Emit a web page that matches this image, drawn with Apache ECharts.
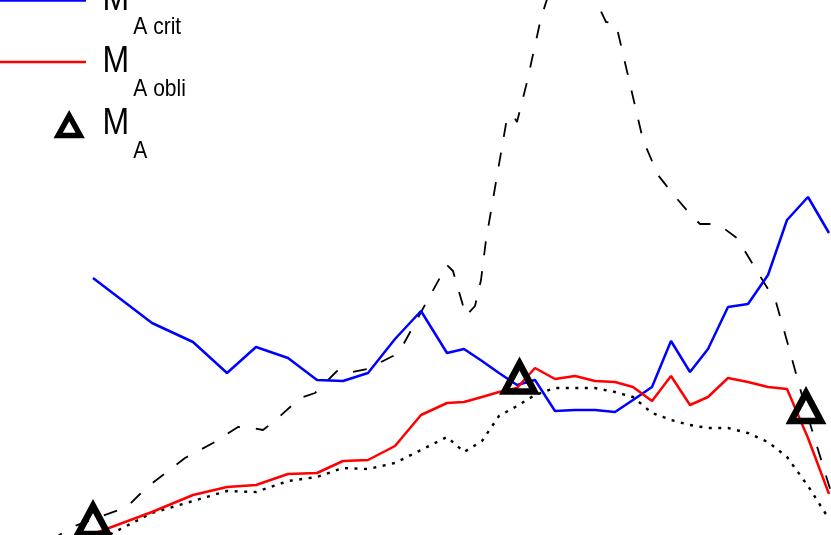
<!DOCTYPE html>
<html>
<head>
<meta charset="utf-8">
<script src="https://cdn.jsdelivr.net/npm/echarts@6/dist/echarts.min.js"></script>
<style>
html, body { margin: 0; padding: 0; background: #fff; }
#chart { width: 831px; height: 535px; }
</style>
</head>
<body>
<div id="chart"></div>
<script>
// shared abscissa for the two model curves and the dotted reference
const xs = [9.3, 15.2, 19.3, 22.7, 25.6, 28.8, 31.7, 34.3, 36.8, 39.5, 42.1, 44.7, 46.4, 48.2, 49.9, 51.7,
    53.5, 55.5, 57.5, 59.5, 61.5, 63.3, 65.2, 67.1, 69.0, 70.8, 72.8, 74.8, 76.8, 78.7, 80.8, 82.9];
const maCrit = [25.7, 21.2, 19.3, 16.2, 18.8, 17.7, 15.5, 15.4, 16.2, 19.6, 22.4, 18.2, 18.6, 17.4, 16.2, 15.0,
    15.5, 12.4, 12.5, 12.5, 12.3, 13.5, 14.8, 19.4, 16.3, 18.6, 22.8, 23.1, 26.0, 31.5, 33.8, 30.2];
const maObli = [0.1, 2.3, 4.0, 4.8, 5.0, 6.1, 6.2, 7.4, 7.5, 8.9, 12.0, 13.2, 13.3, 13.8, 14.3, 14.7,
    16.7, 15.6, 15.9, 15.4, 15.3, 14.8, 13.4, 15.9, 13.0, 13.8, 15.7, 15.3, 14.8, 14.6, 9.7, 4.1];
const dotted = [-0.8, 2.2, 3.4, 4.4, 4.3, 5.4, 5.8, 6.7, 6.6, 7.2, 8.5, 9.8, 8.3, 9.4, 11.9, 12.9,
    14.0, 14.7, 14.7, 14.7, 14.3, 13.8, 12.2, 11.5, 11.0, 10.7, 10.7, 10.2, 9.3, 7.8, 4.9, 1.6];

// dashed curve has its own sampling
const dashX = [5.0, 7.2, 12.7, 14.0, 15.0, 18.5, 21.3, 23.8, 25.2, 26.3, 27.7, 30.0, 31.5, 33.7, 34.3, 35.3,
    36.7, 39.3, 40.2, 42.0, 44.7, 45.3, 46.6, 47.5, 48.1, 48.6, 50.7, 51.3, 51.7, 52.7, 54.1, 55.0,
    57.0, 59.0, 59.8, 60.6, 61.6, 64.3, 65.8, 67.3, 69.0, 70.0, 71.2, 72.2, 73.7, 76.0, 77.6, 78.7,
    80.8, 83.5];
const dashY = [-0.6, 0.8, 2.8, 4.1, 5.0, 7.7, 9.2, 10.8, 10.7, 10.5, 11.6, 13.7, 14.2, 16.4, 16.6, 16.3,
    16.6, 17.9, 18.8, 22.1, 27.0, 26.4, 21.9, 22.9, 25.5, 29.5, 41.7, 42.0, 41.3, 45.3, 51.7, 54.5,
    55.5, 54.7, 53.0, 51.3, 51.1, 39.5, 36.0, 34.1, 32.1, 31.1, 31.1, 30.8, 29.7, 25.9, 23.3, 19.4,
    11.8, 3.0];

// M_A points
const maX = [9.3, 51.95, 80.6];
const maY = [1.5, 15.75, 12.8];

const legendSubs = ['A crit', 'A obli', 'A'];

const pairs = (a, b) => a.map((v, i) => [v, b[i]]);

const chart = echarts.init(document.getElementById('chart'), null, { renderer: 'canvas' });

// legend drawn by hand: M with a lowered subscript
const legendY = [-0.3, 61.7, 123.3];
const graphic = [
    { type: 'line', shape: { x1: 0, y1: 0.5, x2: 86, y2: 0.5 }, style: { stroke: '#0000ff', lineWidth: 2.5 } },
    { type: 'line', shape: { x1: 0, y1: 62, x2: 86, y2: 62 }, style: { stroke: '#ff0000', lineWidth: 2.5 } },
    {
        type: 'polygon',
        shape: { points: [[69.2, 115.6], [58.2, 135.5], [80.2, 135.5]] },
        style: { fill: 'none', stroke: '#000', lineWidth: 5.5, lineJoin: 'miter' }
    }
];
legendSubs.forEach((sub, i) => {
    graphic.push({
        type: 'text', x: 102.6, y: legendY[i], scaleY: 1.165,
        style: { text: 'M', font: '32px "Liberation Sans"', fill: '#000', verticalAlign: 'middle' }
    });
    graphic.push({
        type: 'text', x: 133.3, y: legendY[i] + 27.8, scaleY: 1.11,
        style: { text: sub, font: '21px "Liberation Sans"', fill: '#000', verticalAlign: 'middle' }
    });
});

const option = {
    animation: false,
    grid: { left: 0, right: 0, top: 0, bottom: 0 },
    xAxis: { type: 'value', min: 0, max: 83.1, show: false },
    yAxis: { type: 'value', min: 0, max: 53.5, show: false },
    graphic: graphic,
    series: [
        {
            type: 'line', data: pairs(dashX, dashY), symbol: 'none',
            lineStyle: { color: '#000', width: 1.8, type: [14, 16] }
        },
        {
            type: 'line', data: pairs(xs, dotted), symbol: 'none',
            lineStyle: { color: '#000', width: 2.4, type: [3, 6.5] }
        },
        {
            name: 'MA crit', type: 'line', data: pairs(xs, maCrit), symbol: 'none',
            lineStyle: { color: '#0000ff', width: 2.5 }
        },
        {
            name: 'MA obli', type: 'line', data: pairs(xs, maObli), symbol: 'none',
            lineStyle: { color: '#ff0000', width: 2.5 }
        },
        {
            name: 'MA', type: 'scatter', data: pairs(maX, maY), z: 5,
            symbol: 'triangle', symbolSize: [30, 28],
            itemStyle: {
                color: 'rgba(0,0,0,0)', borderColor: '#000', borderWidth: 6.5,
                borderJoin: 'miter', opacity: 1
            }
        }
    ]
};

chart.setOption(option);
</script>
</body>
</html>
